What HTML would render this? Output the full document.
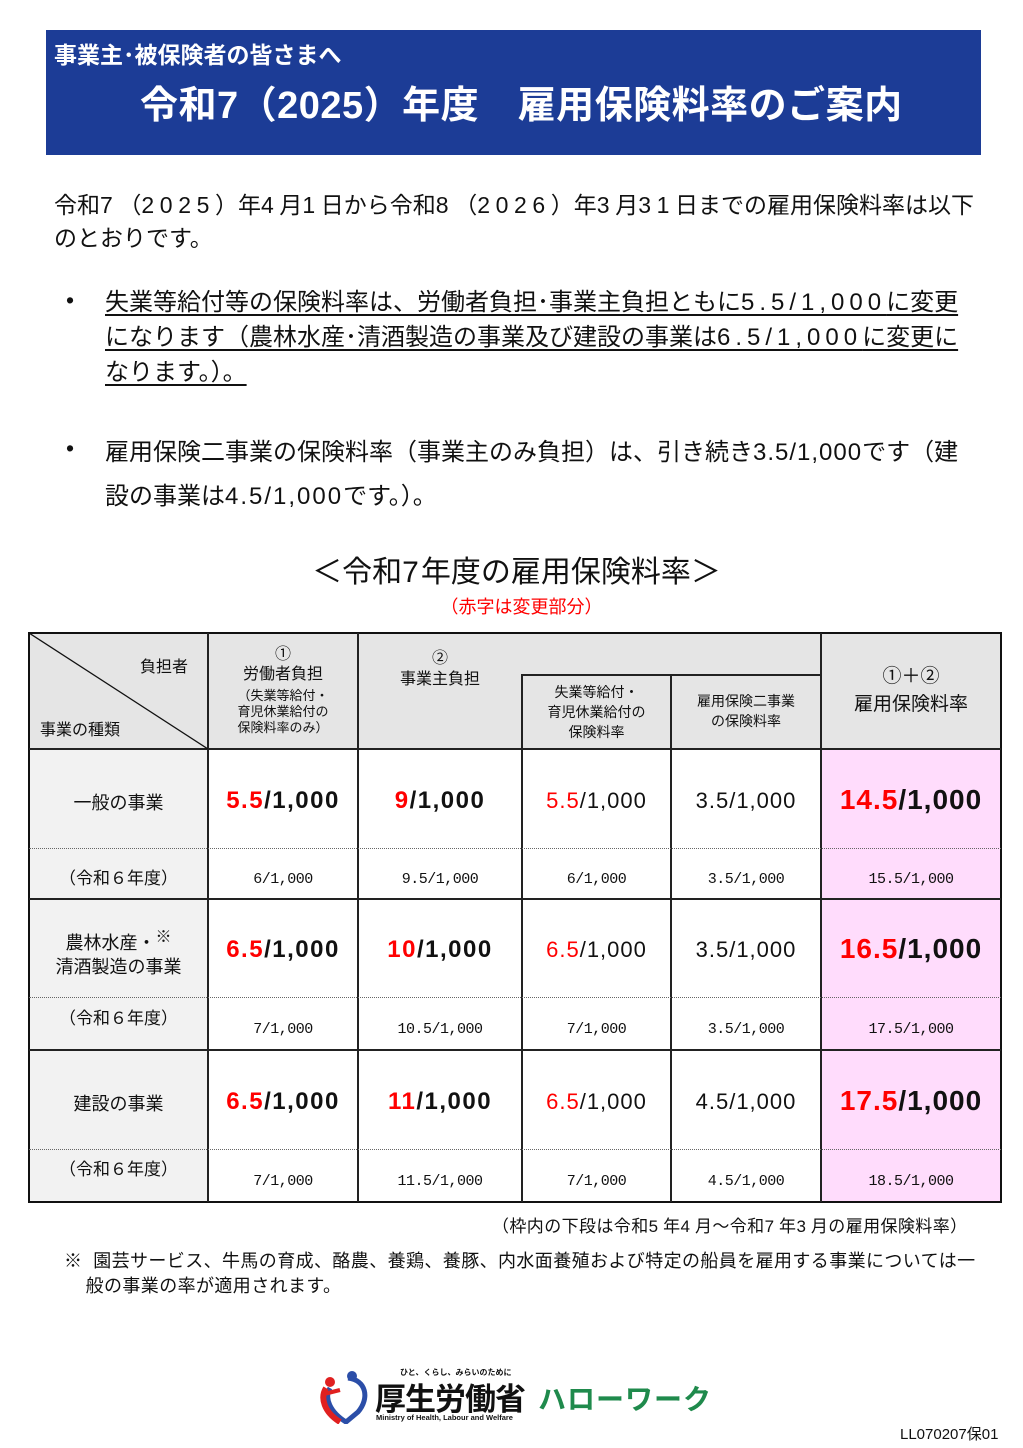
<!DOCTYPE html>
<html><head><meta charset="utf-8"><style>
body{margin:0;width:1023px;height:1448px;position:relative;background:#fff;font-family:"Liberation Sans","Noto Sans CJK JP",sans-serif;color:#111;overflow:hidden}
.a{position:absolute;white-space:nowrap}
.c{position:absolute;text-align:center;white-space:nowrap}
.r{color:#f00}
.b{font-weight:bold}
.vl{position:absolute;background:#222;width:1.5px}
.hl{position:absolute;background:#222;height:1.5px}
.dl{position:absolute;border-top:1.5px dotted #666;height:0}
.big{font-size:24px;font-weight:bold;letter-spacing:1.5px}
.mid{font-size:22px;letter-spacing:1px}
.sm{font-size:15px;font-family:"Liberation Mono",monospace;letter-spacing:-0.5px}
.n{letter-spacing:5.6px}
.m{letter-spacing:5px}
.k{letter-spacing:2px}
.j{letter-spacing:1px}
.f{letter-spacing:5px}
u{text-decoration-thickness:1.5px;text-underline-offset:4px}
</style></head><body>
<div class="a" style="left:46px;top:30px;width:935px;height:125px;background:#1c3c96"></div>
<div class="a" style="left:54px;top:36px;color:#fff;font-size:23px;font-weight:bold">事業主･被保険者の皆さまへ</div>
<div class="a" style="left:140px;top:74px;color:#fff;font-size:38px;font-weight:bold;letter-spacing:0.5px">令和7（2025）年度　雇用保険料率のご案内</div>

<div class="a" style="left:54px;top:189px;font-size:23px;line-height:33px">令和<span class="n">7</span>（<span class="n">2025</span>）年<span class="n">4</span>月<span class="n">1</span>日から令和<span class="n">8</span>（<span class="n">2026</span>）年<span class="n">3</span>月<span class="n">31</span>日までの雇用保険料率は以下<br>のとおりです。</div>

<div class="a" style="left:66px;top:287px;font-size:23px">•</div>
<div class="a" style="left:105px;top:285px;font-size:24px;line-height:35px"><u>失業等給付等の保険料率は、労働者負担･事業主負担ともに<span class="m">5.5/1,000</span>に変更</u><br><u>になります（農林水産･清酒製造の事業及び建設の事業は<span class="m">6.5/1,000</span>に変更に</u><br><u>なります。）。</u></div>
<div class="a" style="left:66px;top:435px;font-size:23px">•</div>
<div class="a" style="left:105px;top:431px;font-size:24px;line-height:44px">雇用保険二事業の保険料率（事業主のみ負担）は、引き続き<span class="j">3.5/1,000</span>です（建<br>設の事業は<span class="k">4.5/1,000</span>です。）。</div>

<div class="c" style="left:0;width:1033px;top:547px;font-size:30px">＜令和<span class="k">7</span>年度の雇用保険料率＞</div>
<div class="c" style="left:0;width:1043px;top:593px;font-size:18px;color:#f00">（赤字は変更部分）</div>

<div class="a" style="left:29px;top:633px;width:972px;height:116px;background:#e5e5e5"></div>
<div class="a" style="left:29px;top:749px;width:179px;height:453px;background:#f2f2f2"></div>
<div class="a" style="left:821px;top:749px;width:180px;height:453px;background:#ffdcfc"></div>
<div class="a" style="left:28px;top:632px;width:970px;height:567px;border:2.5px solid #111"></div>
<div class="vl" style="left:207px;top:633px;height:569px"></div>
<div class="vl" style="left:357px;top:633px;height:569px"></div>
<div class="vl" style="left:521px;top:674px;height:528px"></div>
<div class="vl" style="left:670px;top:674px;height:528px"></div>
<div class="vl" style="left:820px;top:633px;height:569px;width:2px"></div>
<div class="hl" style="left:521px;top:674px;width:300px"></div>
<div class="hl" style="left:29px;top:748px;width:972px;height:2px"></div>
<div class="hl" style="left:29px;top:898px;width:972px"></div>
<div class="hl" style="left:29px;top:1049px;width:972px"></div>
<div class="dl" style="left:29px;top:848px;width:972px"></div>
<div class="dl" style="left:29px;top:997px;width:972px"></div>
<div class="dl" style="left:29px;top:1149px;width:972px"></div>
<svg class="a" style="left:29px;top:633px" width="179" height="116"><line x1="0" y1="0" x2="179" y2="116" stroke="#111" stroke-width="1.3"/></svg>

<div class="a" style="left:140px;top:653px;font-size:16px">負担者</div>
<div class="a" style="left:40px;top:716px;font-size:16px">事業の種類</div>
<div class="c" style="left:208px;width:150px;top:645px;font-size:16px;line-height:20px">①<br>労働者負担</div>
<div class="c" style="left:208px;width:150px;top:688px;font-size:13px;line-height:16px">（失業等給付・<br>育児休業給付の<br>保険料率のみ）</div>
<div class="c" style="left:358px;width:164px;top:648px;font-size:16px;line-height:21px">②<br>事業主負担</div>
<div class="c" style="left:522px;width:149px;top:682px;font-size:14px;line-height:20px">失業等給付・<br>育児休業給付の<br>保険料率</div>
<div class="c" style="left:671px;width:150px;top:691px;font-size:14px;line-height:20px">雇用保険二事業<br>の保険料率</div>
<div class="c" style="left:821px;width:180px;top:663px;font-size:19px;line-height:28px">①＋②<br>雇用保険料率</div>

<div class="c" style="left:29px;width:179px;top:789px;font-size:18px">一般の事業</div>
<div class="c big" style="left:208px;width:150px;top:787px"><span class="r">5.5</span>/1,000</div>
<div class="c big" style="left:358px;width:164px;top:787px"><span class="r">9</span>/1,000</div>
<div class="c mid" style="left:522px;width:149px;top:788px"><span class="r">5.5</span>/1,000</div>
<div class="c mid" style="left:671px;width:150px;top:788px">3.5/1,000</div>
<div class="c big" style="left:821px;width:180px;top:784px;font-size:28px;letter-spacing:1px"><span class="r">14.5</span>/1,000</div>
<div class="c" style="left:29px;width:179px;top:864px;font-size:17px">（令和６年度）</div>
<div class="c sm" style="left:208px;width:150px;top:871px">6/1,000</div>
<div class="c sm" style="left:358px;width:164px;top:871px">9.5/1,000</div>
<div class="c sm" style="left:522px;width:149px;top:871px">6/1,000</div>
<div class="c sm" style="left:671px;width:150px;top:871px">3.5/1,000</div>
<div class="c sm" style="left:821px;width:180px;top:871px">15.5/1,000</div>

<div class="c" style="left:29px;width:179px;top:926px;font-size:18px;line-height:24px">農林水産・<sup style="font-size:16px">※</sup><br>清酒製造の事業</div>
<div class="c big" style="left:208px;width:150px;top:936px"><span class="r">6.5</span>/1,000</div>
<div class="c big" style="left:358px;width:164px;top:936px"><span class="r">10</span>/1,000</div>
<div class="c mid" style="left:522px;width:149px;top:937px"><span class="r">6.5</span>/1,000</div>
<div class="c mid" style="left:671px;width:150px;top:937px">3.5/1,000</div>
<div class="c big" style="left:821px;width:180px;top:933px;font-size:28px;letter-spacing:1px"><span class="r">16.5</span>/1,000</div>
<div class="c" style="left:29px;width:179px;top:1004px;font-size:17px">（令和６年度）</div>
<div class="c sm" style="left:208px;width:150px;top:1021px">7/1,000</div>
<div class="c sm" style="left:358px;width:164px;top:1021px">10.5/1,000</div>
<div class="c sm" style="left:522px;width:149px;top:1021px">7/1,000</div>
<div class="c sm" style="left:671px;width:150px;top:1021px">3.5/1,000</div>
<div class="c sm" style="left:821px;width:180px;top:1021px">17.5/1,000</div>

<div class="c" style="left:29px;width:179px;top:1090px;font-size:18px">建設の事業</div>
<div class="c big" style="left:208px;width:150px;top:1088px"><span class="r">6.5</span>/1,000</div>
<div class="c big" style="left:358px;width:164px;top:1088px"><span class="r">11</span>/1,000</div>
<div class="c mid" style="left:522px;width:149px;top:1089px"><span class="r">6.5</span>/1,000</div>
<div class="c mid" style="left:671px;width:150px;top:1089px">4.5/1,000</div>
<div class="c big" style="left:821px;width:180px;top:1085px;font-size:28px;letter-spacing:1px"><span class="r">17.5</span>/1,000</div>
<div class="c" style="left:29px;width:179px;top:1155px;font-size:17px">（令和６年度）</div>
<div class="c sm" style="left:208px;width:150px;top:1173px">7/1,000</div>
<div class="c sm" style="left:358px;width:164px;top:1173px">11.5/1,000</div>
<div class="c sm" style="left:522px;width:149px;top:1173px">7/1,000</div>
<div class="c sm" style="left:671px;width:150px;top:1173px">4.5/1,000</div>
<div class="c sm" style="left:821px;width:180px;top:1173px">18.5/1,000</div>

<div class="a" style="left:492px;top:1212px;font-size:17px;letter-spacing:0.4px">（枠内の下段は令和<span class="f">5</span>年<span class="f">4</span>月～令和<span class="f">7</span>年<span class="f">3</span>月の雇用保険料率）</div>
<div class="a" style="left:64px;top:1249px;font-size:18px;line-height:25px;letter-spacing:0.4px">※&nbsp; 園芸サービス、牛馬の育成、酪農、養鶏、養豚、内水面養殖および特定の船員を雇用する事業については一<br>&nbsp;&nbsp;&nbsp;&nbsp;般の事業の率が適用されます。</div>

<svg class="a" style="left:318px;top:1368px" width="54" height="56">
<path d="M30 10 C48 12 52 30 40 44 L28 54 C12 44 6 30 12 20" fill="none" stroke="#2b4ea8" stroke-width="5"/>
<path d="M22 54 C6 44 2 30 8 20" fill="none" stroke="#e02020" stroke-width="6"/>
<circle cx="12" cy="14" r="5" fill="#e02020"/><circle cx="34" cy="8" r="5" fill="#2b4ea8"/>
<path d="M6 26 L22 22" stroke="#e02020" stroke-width="4"/>
</svg>
<div class="a" style="left:400px;top:1367px;font-size:8px;font-weight:bold">ひと、くらし、みらいのために</div>
<div class="a" style="left:375px;top:1374px;font-size:31px;font-weight:bold;letter-spacing:-1px">厚生労働省</div>
<div class="a" style="left:376px;top:1413px;font-size:7.5px;font-weight:bold">Ministry of Health, Labour and Welfare</div>
<div class="a" style="left:538px;top:1378px;font-size:28px;font-weight:bold;color:#1f8a4c;letter-spacing:1px">ハローワーク</div>
<div class="a" style="left:900px;top:1423px;font-size:15px">LL070207保01</div>
</body></html>
